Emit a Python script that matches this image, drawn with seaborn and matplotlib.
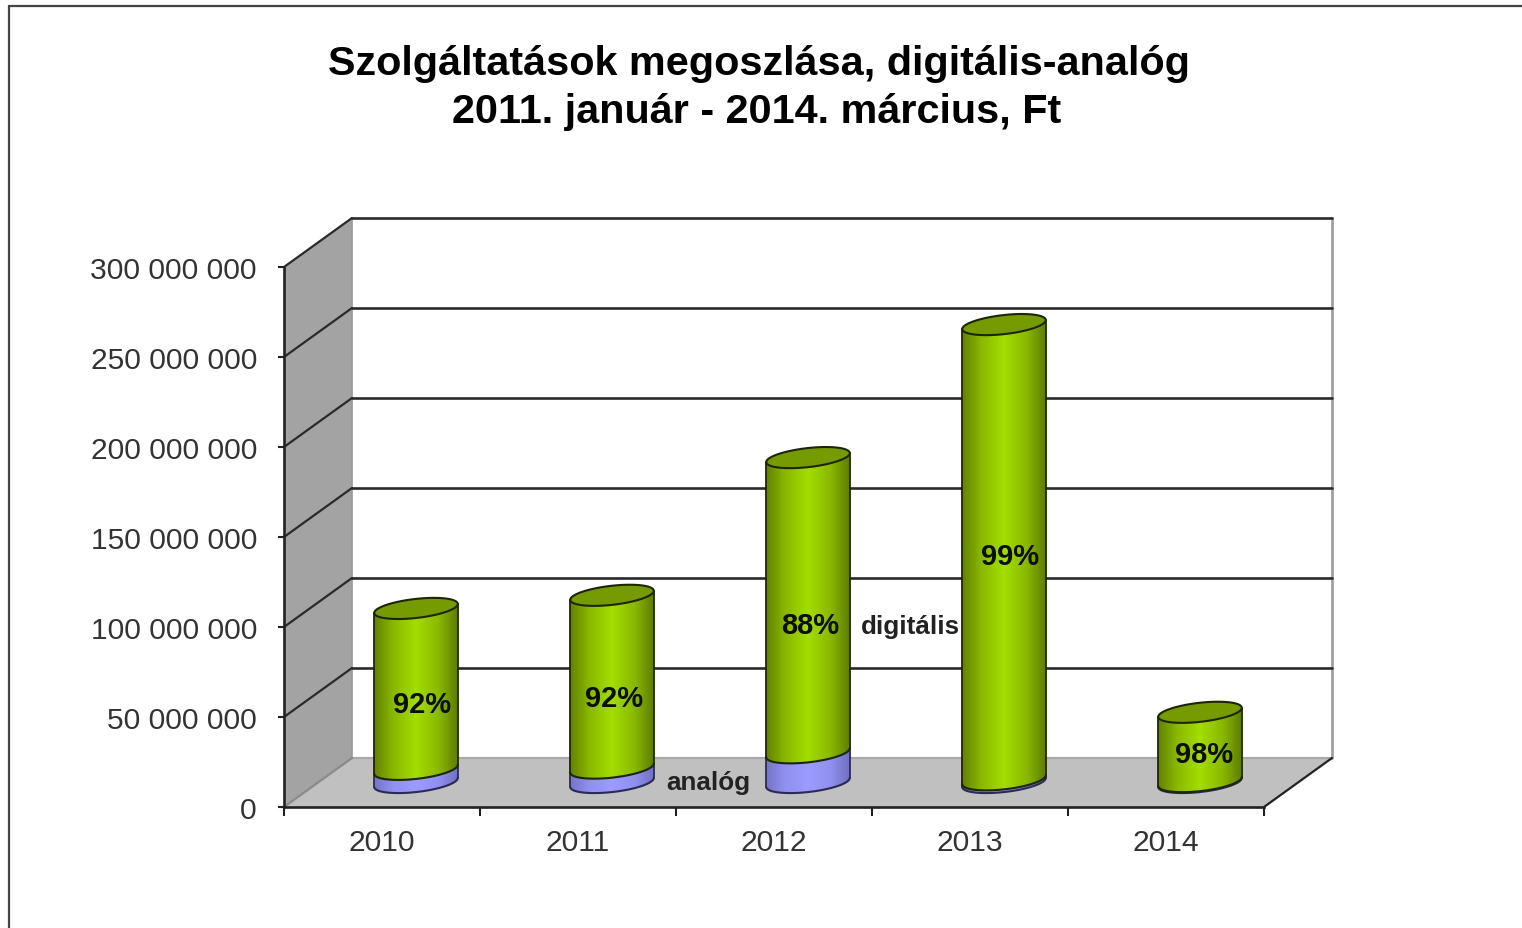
import matplotlib
matplotlib.use("Agg")
import matplotlib.pyplot as plt
from matplotlib.colors import LinearSegmentedColormap
from matplotlib.lines import Line2D
from matplotlib.patches import Polygon, Rectangle
import numpy as np
import pandas as pd
import seaborn as sns

# Values (Ft)
years = ["2010", "2011", "2012", "2013", "2014"]
total = [96.7e6, 104e6, 180.5e6, 254.4e6, 39e6]
analog = [7.3e6, 8e6, 16.5e6, 1.5e6, 0.5e6]
digital_share = ["92%", "92%", "88%", "99%", "98%"]
yticks = [0, 50e6, 100e6, 150e6, 200e6, 250e6, 300e6]
ytick_labels = ["0", "50 000 000", "100 000 000", "150 000 000",
                "200 000 000", "250 000 000", "300 000 000"]

W, H = 1522, 929
sns.set_style("white")
plt.rcParams["font.family"] = ["Liberation Sans", "DejaVu Sans"]

fig = plt.figure(figsize=(W / 100, H / 100), dpi=100)
ax = fig.add_axes([284 / W, 1 - 808 / H, 980 / W, 540 / H])
ax.patch.set_alpha(0)

df = pd.DataFrame({"year": years, "total": total, "analog": analog})
sns.barplot(data=df, x="year", y="total", width=0.423, ax=ax)
sns.barplot(data=df, x="year", y="analog", width=0.423, ax=ax)
ax.set_xlim(-0.5, 4.5)
ax.set_ylim(0, 300e6)
ax.set_xlabel("")
ax.set_ylabel("")

# 3D look: depth of the chart box in data units
px_x = 980 / 5
px_y = 540 / 300e6
depth_x = 68 / px_x
depth_y = 49 / px_y
x0, x1 = -0.5, 4.5
top = 300e6


def poly(points, **kw):
    p = Polygon(points, closed=True, clip_on=False, **kw)
    ax.add_patch(p)
    return p


# side wall, floor
poly([(x0, 0), (x0 + depth_x, depth_y), (x0 + depth_x, top + depth_y), (x0, top)],
     facecolor="#a3a3a3", edgecolor="none", zorder=0.2)
poly([(x0, 0), (x1, 0), (x1 + depth_x, depth_y), (x0 + depth_x, depth_y)],
     facecolor="#c0c0c0", edgecolor="none", zorder=0.2)

# frame of the back wall
ax.plot([x1 + depth_x, x1 + depth_x], [depth_y, top + depth_y], color="#a0a0a0", lw=2,
        clip_on=False, zorder=0.3)
ax.plot([x0 + depth_x, x1 + depth_x], [depth_y, depth_y], color="#a8a8a8", lw=1.5,
        clip_on=False, zorder=0.3)
ax.plot([x1, x1 + depth_x], [0, depth_y], color="#222222", lw=1.6, clip_on=False, zorder=0.4)
ax.plot([x0 + depth_x, x0 + depth_x], [depth_y, top + depth_y], color="#9a9a9a", lw=1.2,
        clip_on=False, zorder=0.3)

# grid lines: along the back wall and across the side wall
for v in yticks[1:]:
    ax.plot([x0 + depth_x, x1 + depth_x], [v + depth_y, v + depth_y], color="#2a2a2a", lw=1.9,
            clip_on=False, zorder=0.4)
for v in yticks:
    ax.plot([x0, x0 + depth_x], [v, v + depth_y],
            color="#2a2a2a" if v > 0 else "#8a8a8a", lw=1.6, clip_on=False, zorder=0.4)

green_cmap = LinearSegmentedColormap.from_list(
    "green", ["#5a7700", "#8ab800", "#a3de00", "#8ab800", "#547000"])
blue_cmap = LinearSegmentedColormap.from_list(
    "blue", ["#6f6fc0", "#9090f0", "#9c9cff", "#9090f0", "#6a6ab8"])
ramp = np.linspace(0, 1, 128).reshape(1, -1)


def ellipse(cx, cy, t):
    # tilted ellipse, sizes in pixels, result in data units
    a, b, tilt = 42.0, 9.5, np.radians(6.5)
    x = a * np.cos(t) * np.cos(tilt) - b * np.sin(t) * np.sin(tilt)
    y = a * np.cos(t) * np.sin(tilt) + b * np.sin(t) * np.cos(tilt)
    return cx + x / px_x, cy + y / px_y


def lower_arc(cx, cy):
    t = np.linspace(0, 2 * np.pi, 361)
    ex, ey = ellipse(cx, cy, t)
    i_left, i_right = np.argmin(ex), np.argmax(ex)
    t_arc = np.linspace(t[i_left], t[i_right] if t[i_right] > t[i_left] else t[i_right] + 2 * np.pi, 120)
    return ellipse(cx, cy, t_arc)


def segment(cx, half, y0, y1, cmap, face_edge, z):
    # body of one cylinder segment: gradient image clipped to its outline
    bx, by = lower_arc(cx, y0)
    tx, ty = lower_arc(cx, y1)
    outer = np.r_[np.c_[bx, by], np.c_[tx, ty][::-1]]
    clip = poly(outer, facecolor="none", edgecolor="none", zorder=z)
    im = ax.imshow(ramp, cmap=cmap, aspect="auto", zorder=z,
                   extent=(cx - half * 1.1, cx + half * 1.1, y0 - 20 / px_y, y1 + 20 / px_y))
    im.set_clip_path(clip)
    ax.plot(bx, by, color=face_edge, lw=1.5, clip_on=False, zorder=z + 0.01)
    ax.plot([bx[0], tx[0]], [by[0], ty[0]], color=face_edge, lw=1.3, clip_on=False, zorder=z + 0.01)
    ax.plot([bx[-1], tx[-1]], [by[-1], ty[-1]], color=face_edge, lw=1.3, clip_on=False, zorder=z + 0.01)


# the cylinders take their size from the bars seaborn has placed
rects = [b for b in ax.patches if isinstance(b, Rectangle)]
n = len(years)
total_bars = rects[:n]
analog_bars = rects[n:2 * n]

for i, (tb, ab) in enumerate(zip(total_bars, analog_bars)):
    tb.set_visible(False)
    ab.set_visible(False)
    cx = tb.get_x() + tb.get_width() / 2 + depth_x / 2
    half = tb.get_width() / 2
    base = depth_y / 2
    z = 1 + i
    segment(cx, half, base, base + ab.get_height(), blue_cmap, "#2a2a55", z)
    segment(cx, half, base + ab.get_height(), base + tb.get_height(), green_cmap, "#1d2600", z + 0.1)
    ex, ey = ellipse(cx, base + tb.get_height(), np.linspace(0, 2 * np.pi, 181))
    poly(np.c_[ex, ey], facecolor="#769b00", edgecolor="#1d2600", lw=1.5, zorder=z + 0.2)

ax.set_xlim(-0.5, 4.5)
ax.set_ylim(0, 300e6)

# axes
sns.despine(ax=ax, top=True, right=True)
for side in ["left", "bottom"]:
    ax.spines[side].set_color("#222222")
    ax.spines[side].set_linewidth(1.9)
    ax.spines[side].set_zorder(20)
ax.set_yticks(yticks)
ax.set_yticklabels(ytick_labels)
ax.tick_params(axis="y", which="major", left=True, length=4.5, width=1.5, color="#222222",
               labelsize=21.6, labelcolor="#333333", pad=15)
ax.set_xticks(np.arange(-0.5, 5, 1))
ax.set_xticklabels([])
ax.set_xticks(range(5), years, minor=True)
ax.tick_params(axis="x", which="major", bottom=True, length=6.5, width=1.5, color="#222222")
ax.tick_params(axis="x", which="minor", bottom=False, length=0, labelsize=21.6,
               labelcolor="#333333", pad=15)


def px_text(x, y, s, **kw):
    fig.text(x / W, 1 - y / H, s, ha="center", va="center", **kw)


# title
px_text(759, 64, "Szolgáltatások megoszlása, digitális-analóg", fontsize=29.8, fontweight="bold", color="black")
px_text(757, 112, "2011. január - 2014. március, Ft", fontsize=29.8, fontweight="bold", color="black")

# percent labels
label_px = [(422, 705), (614, 699), (810, 626), (1010, 557), (1204, 755)]
for (lx, ly), s in zip(label_px, digital_share):
    fig.text(lx / W, 1 - ly / H, s, ha="center", va="center", fontsize=21, fontweight="bold",
             color="#0a0f00", zorder=30)

px_text(910, 627, "digitális", fontsize=18.7, fontweight="bold", color="#222222")
px_text(708, 783, "analóg", fontsize=18.7, fontweight="bold", color="#222222")

# outer chart border, cut by the screenshot
fig.add_artist(Line2D([9 / W, 9 / W], [0, 1 - 7 / H], color="#444444", lw=1.6))
fig.add_artist(Line2D([9 / W, 1], [1 - 7 / H, 1 - 7 / H], color="#444444", lw=1.6))

fig.savefig("out.png", dpi=100)
